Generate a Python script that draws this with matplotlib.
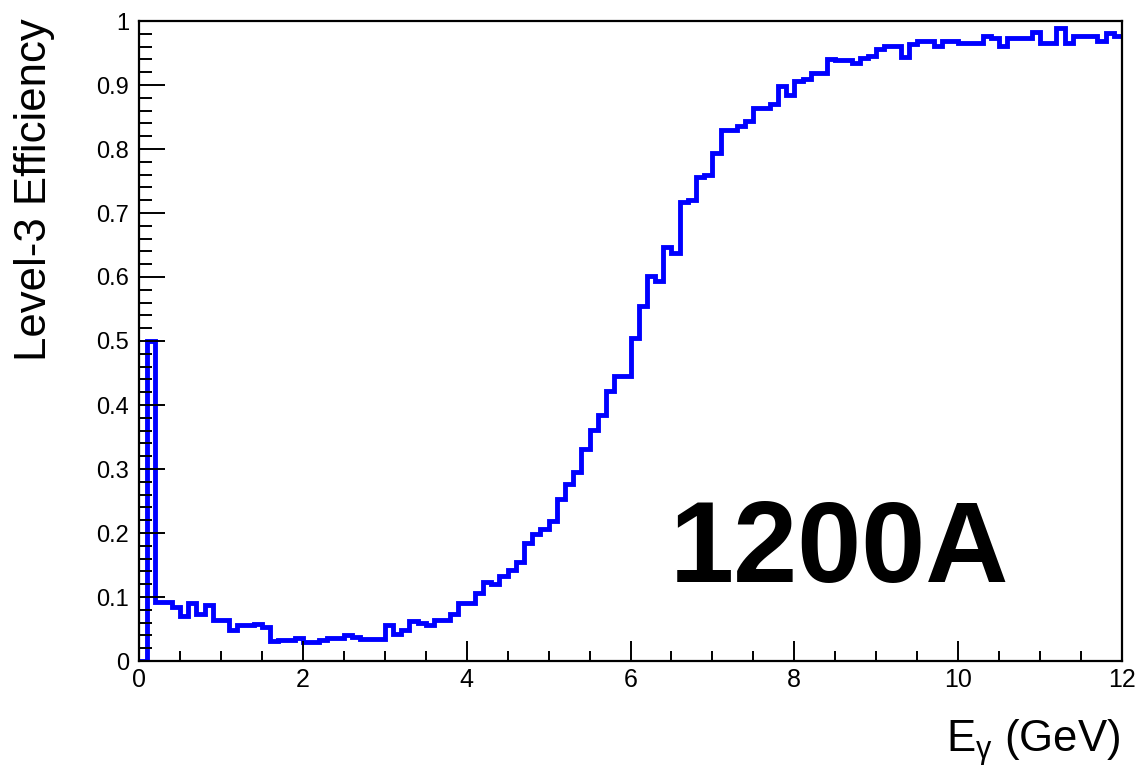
import numpy as np
import matplotlib
matplotlib.use('Agg')
import matplotlib.pyplot as plt
from matplotlib.ticker import MultipleLocator, FuncFormatter

# Level-3 trigger efficiency vs photon energy, 0.1 GeV bins from 0 to 12 GeV
e_lo, e_hi, n_bins = 0.0, 12.0, 120
eff = [
    0.000, 0.500, 0.092, 0.092, 0.084, 0.071, 0.090, 0.074, 0.087, 0.064,
    0.064, 0.048, 0.056, 0.056, 0.058, 0.053, 0.032, 0.033, 0.033, 0.036,
    0.030, 0.030, 0.033, 0.036, 0.036, 0.041, 0.037, 0.034, 0.034, 0.034,
    0.056, 0.042, 0.048, 0.063, 0.059, 0.056, 0.064, 0.064, 0.074, 0.090,
    0.090, 0.106, 0.124, 0.121, 0.133, 0.142, 0.155, 0.184, 0.199, 0.207,
    0.218, 0.253, 0.276, 0.295, 0.331, 0.361, 0.384, 0.422, 0.446, 0.446,
    0.504, 0.555, 0.601, 0.594, 0.647, 0.637, 0.717, 0.720, 0.757, 0.759,
    0.794, 0.829, 0.830, 0.836, 0.844, 0.864, 0.864, 0.871, 0.898, 0.884,
    0.906, 0.910, 0.918, 0.918, 0.940, 0.939, 0.939, 0.934, 0.942, 0.946,
    0.957, 0.961, 0.961, 0.943, 0.964, 0.969, 0.969, 0.961, 0.969, 0.969,
    0.965, 0.965, 0.965, 0.977, 0.973, 0.961, 0.973, 0.973, 0.973, 0.983,
    0.966, 0.966, 0.989, 0.965, 0.977, 0.977, 0.977, 0.969, 0.981, 0.977,
]
tag = '1200A'

edges = np.linspace(e_lo, e_hi, n_bins + 1)

plt.rcParams['font.family'] = ['Liberation Sans', 'DejaVu Sans']
plt.rcParams['mathtext.fontset'] = 'custom'
plt.rcParams['mathtext.rm'] = 'Liberation Sans'
plt.rcParams['mathtext.it'] = 'Liberation Sans'

fig = plt.figure(figsize=(11.38, 7.68), dpi=100)
ax = fig.add_axes([139 / 1138, 107 / 768, 983 / 1138, 640 / 768])

ax.stairs(eff, edges, baseline=None, color='#0000ff', lw=3.5)

ax.set_xlim(e_lo, e_hi)
ax.set_ylim(0, 1)

ax.xaxis.set_major_locator(MultipleLocator(2))
ax.xaxis.set_minor_locator(MultipleLocator(0.5))
ax.yaxis.set_major_locator(MultipleLocator(0.1))
ax.yaxis.set_minor_locator(MultipleLocator(0.02))
ax.yaxis.set_major_formatter(FuncFormatter(lambda v, p: f'{v:g}'))
ax.xaxis.set_major_formatter(FuncFormatter(lambda v, p: f'{v:g}'))

ax.tick_params(axis='both', which='both', direction='in', width=1.4, color='black',
               top=False, right=False)
ax.tick_params(axis='y', which='major', length=19, labelsize=17, pad=7)
ax.tick_params(axis='y', which='minor', length=9.5)
ax.tick_params(axis='x', which='major', length=14.5, labelsize=18, pad=5)
ax.tick_params(axis='x', which='minor', length=7.2)
for s in ax.spines.values():
    s.set_linewidth(1.6)
    s.set_color('black')

ax.text(8.55, 0.123, tag, fontsize=83, fontweight='bold',
        ha='center', va='baseline', color='black')

fig.text(35 / 1138, 1 - 18 / 768, 'Level-3 Efficiency', rotation=90,
         ha='center', va='top', fontsize=31.5)
fig.text(1120 / 1138, 1 - 752 / 768, r'E$_{\gamma}$ (GeV)',
         ha='right', va='baseline', fontsize=31.5)

fig.savefig('out.png', dpi=100)
